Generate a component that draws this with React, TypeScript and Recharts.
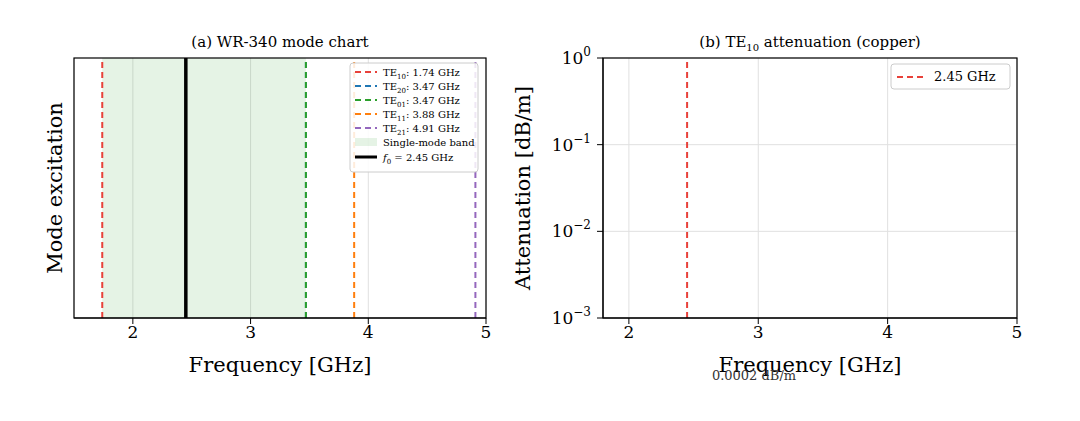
import React from "react";
import {
  ComposedChart,
  XAxis,
  YAxis,
  CartesianGrid,
  ReferenceLine,
  ReferenceArea,
  Line,
} from "recharts";

const FONT = "DejaVu Serif, serif";

const modeNames = ["10", "20", "01", "11", "21"];
const modeCutoffs = [1.74, 3.47, 3.47, 3.88, 4.91];
const modeColors = ["#e8413a", "#1f77b4", "#2ca02c", "#ff7f0e", "#9467bd"];
const operatingFreq = 2.45;
const leftTicks = [2, 3, 4, 5];
const rightTicks = [2, 3, 4, 5];
const logTicks = [0.001, 0.01, 0.1, 1];
const logExps = ["−3", "−2", "−1", "0"];
const leftDummy = [{ f: 2, a: 0.5 }, { f: 4, a: 0.5 }];
const rightDummy = [{ f: 2, a: 0.01 }, { f: 4, a: 0.01 }];

const tickStyle = { fill: "#000", fontSize: 17, fontFamily: FONT };

function LogTick({ x, y, payload }: any) {
  const i = logTicks.indexOf(payload.value);
  return (
    <text x={x - 4} y={y + 6} textAnchor="end" fontFamily={FONT} fontSize={17} fill="#000">
      10
      <tspan dy={-8} fontSize={12}>{logExps[i]}</tspan>
    </text>
  );
}

export default function App() {
  return (
    <div style={{ position: "absolute", left: 0, top: 0, width: 1080, height: 421, background: "#fff" }}>
      <div style={{ position: "absolute", left: 0, top: 0 }}>
        <ComposedChart width={540} height={421} data={leftDummy} margin={{ top: 58, left: 74, right: 54, bottom: 73 }}>
          <CartesianGrid horizontal={false} stroke="#e0e0e0" />
          <XAxis
            dataKey="f"
            type="number"
            domain={[1.5, 5]}
            ticks={leftTicks}
            height={30}
            tick={tickStyle}
            tickLine={{ stroke: "#000" }}
            axisLine={{ stroke: "#000" }}
            allowDataOverflow
          />
          <YAxis type="number" domain={[0, 1]} width={0} tick={false} tickLine={false} axisLine={false} />
          <ReferenceArea x1={modeCutoffs[0]} x2={modeCutoffs[1]} y1={0} y2={1} fill="#2ca02c" fillOpacity={0.12} stroke="none" />
          {modeCutoffs.map((c, i) => (
            <ReferenceLine key={i} x={c} stroke={modeColors[i]} strokeWidth={2} strokeDasharray="6 4" />
          ))}
          <ReferenceLine x={operatingFreq} stroke="#000" strokeWidth={3.5} />
          <Line dataKey="a" stroke="none" isAnimationActive={false} dot={false} />
        </ComposedChart>
      </div>
      <div style={{ position: "absolute", left: 540, top: 0 }}>
        <ComposedChart width={540} height={421} data={rightDummy} margin={{ top: 58, left: 8, right: 63, bottom: 73 }}>
          <CartesianGrid stroke="#e0e0e0" />
          <XAxis
            dataKey="f"
            type="number"
            domain={[1.8, 5]}
            ticks={rightTicks}
            height={30}
            tick={tickStyle}
            tickLine={{ stroke: "#000" }}
            axisLine={{ stroke: "#000" }}
            allowDataOverflow
          />
          <YAxis
            scale="log"
            domain={[0.001, 1]}
            ticks={logTicks}
            width={55}
            tick={<LogTick />}
            tickLine={{ stroke: "#000" }}
            axisLine={{ stroke: "#000" }}
            allowDataOverflow
          />
          <ReferenceLine x={operatingFreq} stroke="#e8413a" strokeWidth={2} strokeDasharray="6 4" />
          <Line dataKey="a" stroke="none" isAnimationActive={false} dot={false} />
        </ComposedChart>
      </div>
      <svg width={1080} height={421} style={{ position: "absolute", left: 0, top: 0, pointerEvents: "none" }} fontFamily={FONT}>
        <rect x={74} y={58} width={412} height={260} fill="none" stroke="#000" strokeWidth={1.2} />
        <rect x={603} y={58} width={414} height={260} fill="none" stroke="#000" strokeWidth={1.2} />
        <text x={280} y={47} textAnchor="middle" fontSize={15}>(a) WR-340 mode chart</text>
        <text x={810} y={47} textAnchor="middle" fontSize={15}>
          (b) TE<tspan dy={4} fontSize={10}>10</tspan><tspan dy={-4}> attenuation (copper)</tspan>
        </text>
        <text x={280} y={372} textAnchor="middle" fontSize={21}>Frequency [GHz]</text>
        <text x={810} y={372} textAnchor="middle" fontSize={21}>Frequency [GHz]</text>
        <text x={754} y={380} textAnchor="middle" fontSize={13} fill="#333">0.0002 dB/m</text>
        <text x={62} y={188} textAnchor="middle" fontSize={21} transform="rotate(-90 62 188)">Mode excitation</text>
        <text x={530} y={188} textAnchor="middle" fontSize={21} transform="rotate(-90 530 188)">Attenuation [dB/m]</text>
        {/* left legend */}
        <rect x={350} y={63} width={128} height={109} fill="#fff" fillOpacity={0.85} stroke="#ccc" rx={3} />
        {modeNames.map((n, i) => (
          <g key={n}>
            <line x1={355} x2={377} y1={72 + i * 14} y2={72 + i * 14} stroke={modeColors[i]} strokeWidth={2} strokeDasharray="6 4" />
            <text x={383} y={76 + i * 14} fontSize={10}>
              TE<tspan dy={3} fontSize={7}>{n}</tspan><tspan dy={-3}>: {modeCutoffs[i].toFixed(2)} GHz</tspan>
            </text>
          </g>
        ))}
        <rect x={355} y={138} width={22} height={8} fill="#2ca02c" fillOpacity={0.12} />
        <text x={383} y={146} fontSize={10}>Single-mode band</text>
        <line x1={355} x2={377} y1={157} y2={157} stroke="#000" strokeWidth={3} />
        <text x={383} y={161} fontSize={10}>
          <tspan fontStyle="italic">f</tspan><tspan dy={3} fontSize={7}>0</tspan><tspan dy={-3}> = {operatingFreq} GHz</tspan>
        </text>
        {/* right legend */}
        <rect x={891} y={64} width={119} height={25} fill="#fff" stroke="#ccc" rx={3} />
        <line x1={897} x2={925} y1={77} y2={77} stroke="#e8413a" strokeWidth={2} strokeDasharray="6 4" />
        <text x={934} y={81} fontSize={13}>{operatingFreq} GHz</text>
      </svg>
    </div>
  );
}
